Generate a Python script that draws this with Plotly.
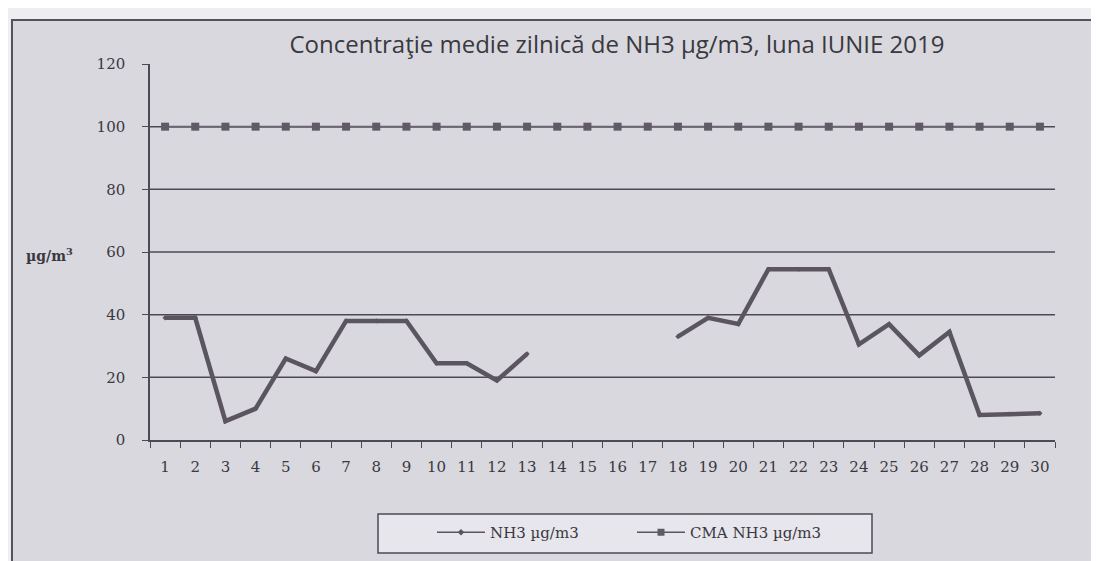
import plotly.graph_objects as go

days = [str(d) for d in range(1, 31)]
nh3 = [39, 39, 6, 10, 26, 22, 38, 38, 38, 24.5, 24.5, 19, 27.5,
       None, None, None, None,
       33, 39, 37, 54.5, 54.5, 54.5, 30.5, 37, 27, 34.5, 8, 8.3, 8.5]
cma = [100] * 30
y_ticks = [0, 20, 40, 60, 80, 100, 120]
grid_vals = [20, 40, 60, 80, 100]

title = "Concentraţie medie zilnică de NH3 µg/m3, luna IUNIE 2019"
name_nh3 = "NH3 µg/m3"
name_cma = "CMA NH3 µg/m3"

DARK = "#4d4a55"
TXT = "#3a3840"
SERIF = "DejaVu Serif"

fig = go.Figure()
fig.add_trace(go.Scatter(
    x=days, y=nh3, name=name_nh3, mode="lines+markers", showlegend=False,
    line=dict(color="#5b5560", width=4.5),
    marker=dict(symbol="diamond", size=4, color="#5b5560"),
    connectgaps=False,
))
fig.add_trace(go.Scatter(
    x=days, y=cma, name=name_cma, mode="lines+markers", showlegend=False,
    line=dict(color="#6a6570", width=2),
    marker=dict(symbol="square", size=8, color="#5f5a66"),
))
# legend entries (thin lines as in the original legend)
fig.add_trace(go.Scatter(
    x=[None], y=[None], name=name_nh3, mode="lines+markers",
    line=dict(color="#5b5560", width=1.5),
    marker=dict(symbol="diamond", size=5, color="#5b5560"),
))
fig.add_trace(go.Scatter(
    x=[None], y=[None], name=name_cma, mode="lines+markers",
    line=dict(color="#5b5560", width=1.5),
    marker=dict(symbol="square", size=7, color="#5f5a66"),
))

# outer frame of the chart (drawn first so the grid sits on top)
fig.add_shape(type="rect", xref="paper", yref="paper",
              x0=-0.1525, x1=1.2, y0=-0.6, y1=1.117,
              line=dict(color="#55525c", width=2), fillcolor="#d8d8de",
              layer="below")
# legend box
fig.add_shape(type="rect", xref="paper", yref="paper",
              x0=(370 - 142) / 905, x1=(864 - 142) / 905,
              y0=-(545 - 432) / 376, y1=-(506 - 432) / 376,
              line=dict(color=DARK, width=1.5), fillcolor="#e6e6ec",
              layer="below")

for g in grid_vals:
    fig.add_hline(y=g, line=dict(color=DARK, width=1.5), layer="below")

fig.add_annotation(text="<b>µg/m<sup>3</sup></b>", xref="paper", yref="paper",
                   x=(41 - 142) / 905, y=(432 - 247) / 376, showarrow=False,
                   xanchor="center", yanchor="middle",
                   font=dict(family=SERIF, size=14, color=TXT))

fig.update_layout(
    width=1099, height=561,
    margin=dict(l=142, r=52, t=56, b=129),
    paper_bgcolor="#eeeef2",
    plot_bgcolor="rgba(0,0,0,0)",
    title=dict(text=title, x=609 / 1099, xanchor="center",
               y=1 - 37 / 561, yanchor="middle",
               font=dict(family="Open Sans", size=24, color=TXT)),
    xaxis=dict(type="category", tickson="boundaries", ticks="outside",
               range=[-0.5, 29.5],
               ticklen=6, tickcolor=DARK, showline=True, linecolor=DARK,
               linewidth=1.5, showgrid=False, zeroline=False,
               ticklabelstandoff=12,
               tickfont=dict(family=SERIF, size=15, color=TXT)),
    yaxis=dict(range=[0, 120], tickvals=y_ticks, ticks="outside", ticklen=6,
               tickcolor=DARK, showline=True, linecolor=DARK,
               linewidth=1.5, showgrid=False, zeroline=False,
               ticklabelstandoff=14,
               tickfont=dict(family=SERIF, size=15, color=TXT)),
    legend=dict(orientation="h", x=(424 - 142) / 905, xanchor="left",
                y=-(508 - 432) / 376, yanchor="top",
                bgcolor="rgba(0,0,0,0)", borderwidth=0,
                font=dict(family=SERIF, size=15, color=TXT),
                itemwidth=48,
                entrywidthmode="pixels", entrywidth=137),
    showlegend=True,
)

fig.write_html("out.html")
